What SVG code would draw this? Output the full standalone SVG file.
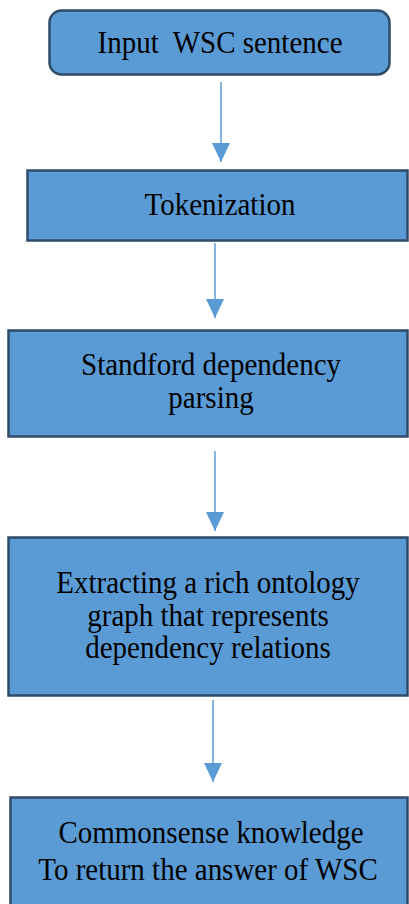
<svg xmlns="http://www.w3.org/2000/svg" width="409" height="904" viewBox="0 0 409 904">
<style>
.box{fill:#5B9BD5;stroke:#2E4B68;stroke-width:2.5}
.lbl{font-family:'Liberation Serif','Times New Roman',serif;font-size:29px;fill:#000;text-anchor:middle}
</style>
<g id="connectors">
<path d="M221,82 L221,162" stroke="#5B9BD5" stroke-width="1.5" fill="none"/>
<path d="M221,143 L212,143 L221,162 L230,143 Z" fill="#5B9BD5"/>
<path d="M215,243 L215,318" stroke="#5B9BD5" stroke-width="1.5" fill="none"/>
<path d="M215,299 L206,299 L215,318 L224,299 Z" fill="#5B9BD5"/>
<path d="M215,451 L215,531" stroke="#5B9BD5" stroke-width="1.5" fill="none"/>
<path d="M215,512 L206,512 L215,531 L224,512 Z" fill="#5B9BD5"/>
<path d="M213,700 L213,782" stroke="#5B9BD5" stroke-width="1.5" fill="none"/>
<path d="M213,763 L204,763 L213,782 L222,763 Z" fill="#5B9BD5"/>
</g>
<g id="node-input">
<rect class="box" x="49.5" y="10.5" width="340" height="64" rx="12" ry="12"/>
<text class="lbl" xml:space="preserve" style="white-space:pre" transform="translate(220,53) scale(1,1.1)">Input  WSC sentence</text>
</g>
<g id="node-tokenization">
<rect class="box" x="27.5" y="170.5" width="380" height="70"/>
<text class="lbl" transform="translate(220,215) scale(1,1.1)">Tokenization</text>
</g>
<g id="node-parsing">
<rect class="box" x="8.5" y="330.5" width="399" height="106"/>
<text class="lbl" transform="translate(211,375) scale(1,1.1)">Standford dependency</text>
<text class="lbl" transform="translate(211,408) scale(1,1.1)">parsing</text>
</g>
<g id="node-extracting">
<rect class="box" x="8.5" y="537.5" width="399" height="158"/>
<text class="lbl" transform="translate(208,593) scale(1,1.1)">Extracting a rich ontology</text>
<text class="lbl" transform="translate(208,625.5) scale(1,1.1)">graph that represents</text>
<text class="lbl" transform="translate(208,658) scale(1,1.1)">dependency relations</text>
</g>
<g id="node-commonsense">
<rect class="box" x="10.5" y="797.5" width="397" height="130"/>
<text class="lbl" transform="translate(211,843) scale(1,1.1)">Commonsense knowledge</text>
<text class="lbl" transform="translate(208,880) scale(1,1.1)">To return the answer of WSC</text>
</g>
</svg>
